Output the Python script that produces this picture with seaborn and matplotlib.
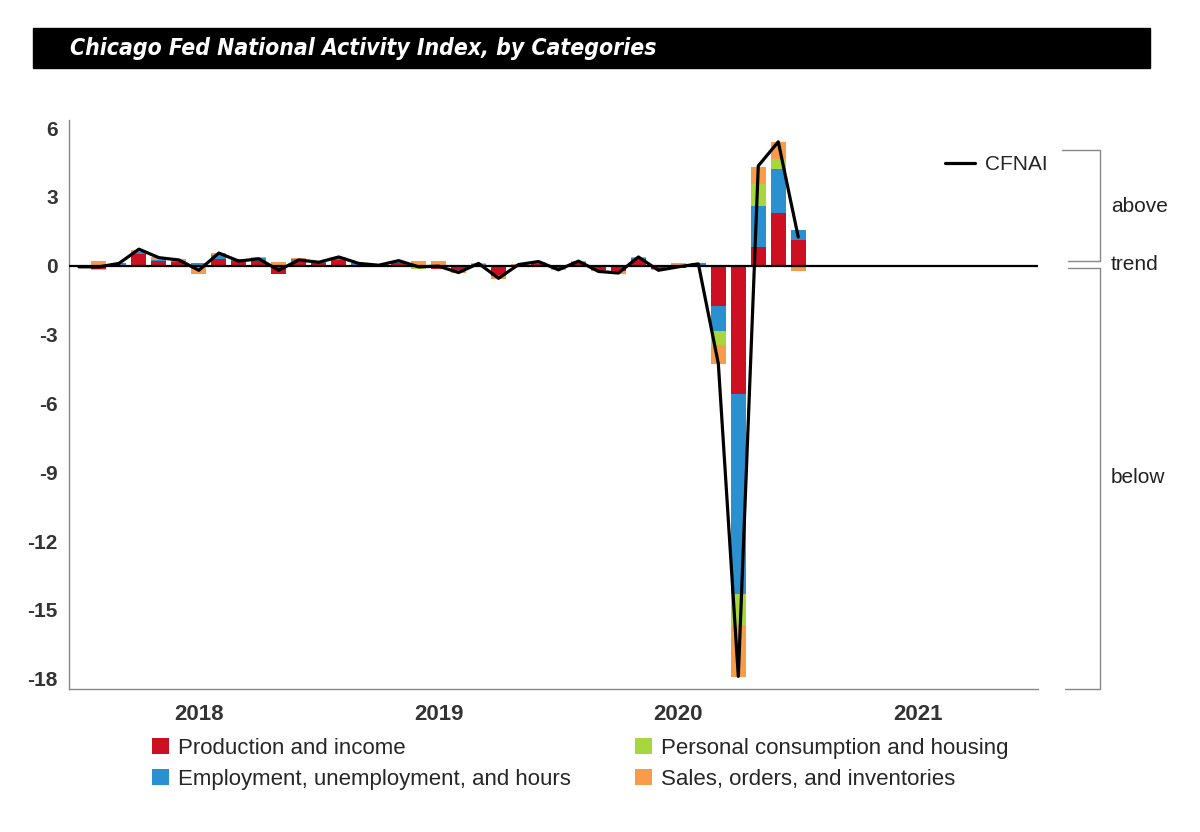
import numpy as np
import pandas as pd
import matplotlib
matplotlib.use('Agg')
import matplotlib.pyplot as plt
import seaborn as sns
from matplotlib import font_manager
from matplotlib.patches import Rectangle, Patch
from matplotlib.lines import Line2D

# monthly data, Jul 2017 .. Jul 2020
months = pd.period_range('2017-07', '2020-07', freq='M')

production = [0.00, -0.15, 0.05, 0.50, 0.20, 0.15,
              -0.05, 0.30, 0.20, 0.20, -0.35, 0.15, 0.12, 0.25, 0.05, 0.05, 0.12, 0.00,
              -0.15, -0.20, 0.02, -0.40, 0.00, 0.08, -0.10, 0.12, -0.20, -0.25, 0.30, -0.15,
              -0.10, 0.05, -1.77, -5.60, 0.80, 2.30, 1.14]
employment = [-0.05, 0.00, 0.05, 0.10, 0.05, 0.05,
              0.10, 0.15, 0.08, 0.15, 0.05, 0.12, 0.05, 0.08, 0.05, 0.02, 0.05, 0.00,
              0.00, -0.05, 0.05, -0.05, 0.05, 0.05, 0.00, 0.05, 0.00, 0.00, 0.05, 0.00,
              0.02, 0.05, -1.08, -8.73, 1.80, 1.90, 0.41]
consumption = [0.00, -0.05, 0.00, 0.00, 0.00, 0.02,
               -0.05, 0.02, 0.00, 0.00, 0.00, 0.00, 0.00, 0.00, 0.00, -0.05, 0.00, -0.15,
               0.00, 0.00, 0.05, 0.00, 0.00, 0.00, 0.00, 0.00, 0.00, 0.00, 0.00, 0.00,
               0.00, 0.00, -0.62, -1.31, 0.95, 0.45, 0.00]
sales = [0.05, 0.20, 0.00, 0.10, 0.12, 0.08,
         -0.25, 0.10, 0.02, 0.05, 0.10, 0.08, 0.02, 0.05, 0.00, 0.00, 0.05, 0.20,
         0.20, -0.05, 0.00, -0.12, 0.02, 0.05, -0.08, 0.03, -0.05, -0.10, 0.03, -0.05,
         0.08, 0.00, -0.80, -2.27, 0.75, 0.75, -0.24]
cfnai = [-0.05, -0.05, 0.10, 0.72, 0.35, 0.25,
         -0.20, 0.55, 0.20, 0.30, -0.20, 0.25, 0.15, 0.38, 0.10, 0.02, 0.22, -0.05,
         -0.02, -0.30, 0.10, -0.55, 0.05, 0.18, -0.18, 0.20, -0.25, -0.32, 0.38, -0.20,
         -0.05, 0.08, -4.27, -17.90, 4.35, 5.40, 1.25]

category_names = ['Production and income',
                  'Employment, unemployment, and hours',
                  'Personal consumption and housing',
                  'Sales, orders, and inventories']
category_colors = ['#CC1022', '#2B90CF', '#A7D63D', '#F89C4A']

year_labels = ['2018', '2019', '2020', '2021']
y_ticks = [6, 3, 0, -3, -6, -9, -12, -15, -18]

title = 'Chicago Fed National Activity Index, by Categories'

sns.set_style('white')
plt.rcParams['font.family'] = ['Liberation Sans', 'DejaVu Sans']

W, H = 1200, 832


def fx(x):
    return x / W


def fy(y):
    return 1 - y / H


# month number counted from Jan 2018
t = np.array([(p.year - 2018) * 12 + p.month - 1 for p in months])

comp = np.array([production, employment, consumption, sales])
pos_stack = np.clip(comp, 0, None).cumsum(axis=0)
neg_stack = np.clip(comp, None, 0).cumsum(axis=0)

fig = plt.figure(figsize=(W / 100, H / 100), dpi=100)
ax = fig.add_axes([fx(69), fy(689), fx(1038 - 69), (689 - 120) / H])

# stacked bars: draw cumulative totals from the outer layer inward
for i in range(3, -1, -1):
    for stack in (pos_stack, neg_stack):
        sns.barplot(x=t, y=stack[i], native_scale=True, color=category_colors[i],
                    width=0.75, saturation=1, linewidth=0, errorbar=None, ax=ax)

ax.axhline(0, color='black', lw=1.6, zorder=4)
sns.lineplot(x=t, y=cfnai, color='black', linewidth=2.3, ax=ax, zorder=5)

ax.set_xlim(-6.5, 42)
ax.set_ylim(-18.45, 6.35)
ax.set_xticks([0, 12, 24, 36])
ax.set_xticklabels(year_labels)
ax.set_yticks(y_ticks)
ax.set_yticklabels([str(v) for v in y_ticks])
ax.set_xlabel('')
ax.set_ylabel('')
for lab in ax.get_xticklabels() + ax.get_yticklabels():
    lab.set_fontweight('bold')
    lab.set_color('#333333')
ax.tick_params(axis='both', direction='in', length=6, color='#888888')
ax.tick_params(axis='x', labelsize=16, pad=11)
ax.tick_params(axis='y', labelsize=15, pad=8)
for side in ['top', 'right']:
    ax.spines[side].set_visible(False)
for side in ['left', 'bottom']:
    ax.spines[side].set_color('#888888')
    ax.spines[side].set_linewidth(1)

# CFNAI legend
ax.legend([Line2D([], [], color='black', lw=2.3)], ['CFNAI'], loc='center left',
          bbox_to_anchor=(fx(945), fy(165)), bbox_transform=fig.transFigure,
          frameon=False, fontsize=15, handlelength=1.45, handletextpad=0.45,
          borderpad=0, borderaxespad=0)

# category legend at the bottom
handles = [Patch(facecolor=c, edgecolor='none') for c in category_colors]
fig.legend(handles, category_names, loc='upper left', bbox_to_anchor=(fx(152), fy(738)),
           ncol=2, frameon=False, fontsize=16, handlelength=0.75, handleheight=0.75,
           handletextpad=0.42, columnspacing=2.9, labelspacing=0.45,
           borderpad=0, borderaxespad=0)

# brackets on the right
bracket = [
    [(1062, 150), (1100, 150), (1100, 261), (1068, 261)],
    [(1068, 268), (1100, 268), (1100, 689), (1065, 689)],
]
for pts in bracket:
    xs = [fx(p[0]) for p in pts]
    ys = [fy(p[1]) for p in pts]
    fig.add_artist(Line2D(xs, ys, color='#888888', lw=1, transform=fig.transFigure))

fig.text(fx(1111), fy(207), 'above', va='center', fontsize=15, color='#222222')
fig.text(fx(1111), fy(265), 'trend', va='center', fontsize=15, color='#222222')
fig.text(fx(1111), fy(478), 'below', va='center', fontsize=15, color='#222222')

# title banner
fig.add_artist(Rectangle((fx(33), fy(68)), fx(1150 - 33), 40 / H,
                         transform=fig.transFigure, color='black', zorder=0))

# prefer a narrow / condensed bold italic face for the banner title
narrow = [f for f in font_manager.fontManager.ttflist
          if 'Narrow' in f.name or 'Condensed' in f.name
          or f.stretch in ('condensed', 'semi-condensed', 'extra-condensed')]


def rank(f):
    w = f.weight if isinstance(f.weight, int) else 700 if 'bold' in str(f.weight) else 400
    return (f.style in ('italic', 'oblique'), w >= 600, 'Sans' in f.name)


if narrow:
    best = max(narrow, key=rank)
    tprops = font_manager.FontProperties(fname=best.fname)
    if best.style == 'normal':
        tprops.set_style('italic')
else:
    tprops = font_manager.FontProperties(family='Liberation Sans', weight='bold', style='italic')
tprops.set_size(22)
ttl = fig.text(fx(70), fy(48), title, color='white', va='center', fontproperties=tprops)
fig.canvas.draw()
bb = ttl.get_window_extent()
ttl.set_fontsize(min(28, 22 * 585 / bb.width))

fig.savefig('out.png', dpi=100)
